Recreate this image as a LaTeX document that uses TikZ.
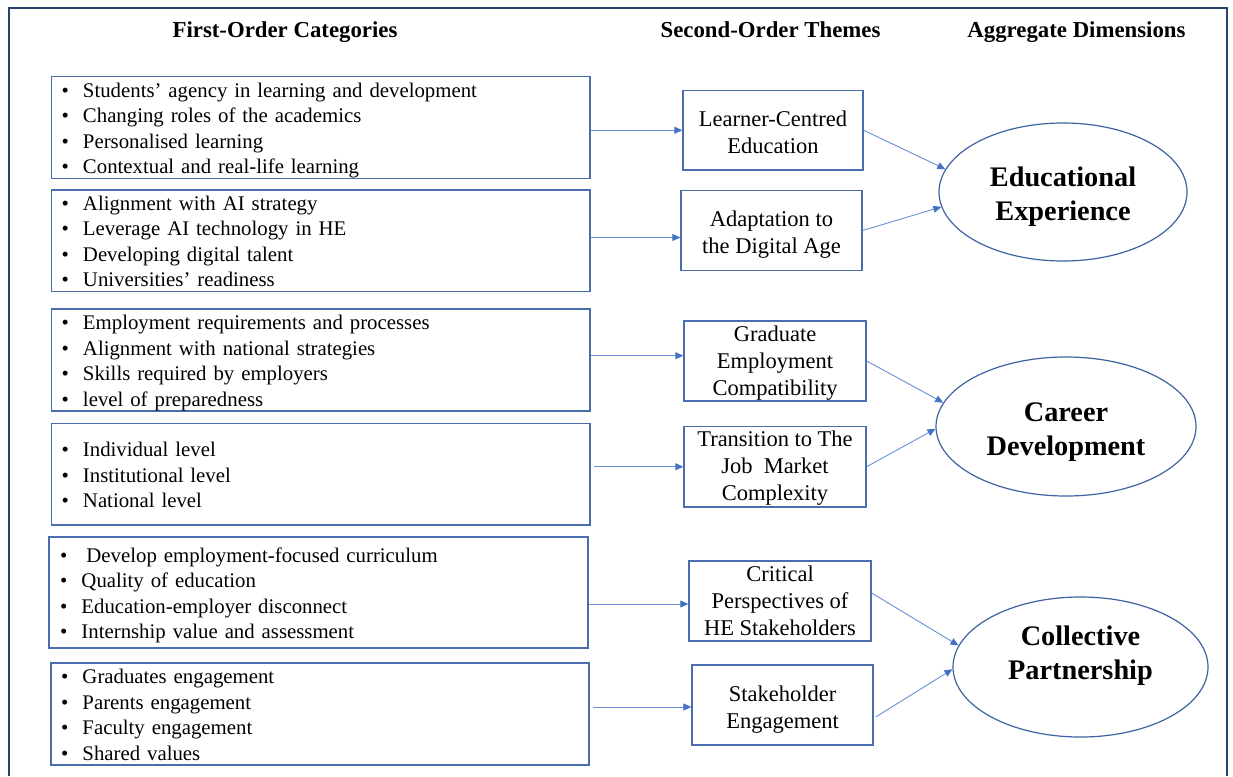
\documentclass[tikz,border=0pt]{standalone}
\usepackage{fontspec}
\setmainfont{Liberation Serif}
\usetikzlibrary{shapes.geometric,arrows.meta}
\definecolor{boxc}{HTML}{4A6EAD}
\definecolor{arrc}{HTML}{6890D4}
\definecolor{headc}{HTML}{4472C4}
\definecolor{framec}{HTML}{25456F}
\definecolor{ellc}{HTML}{3E63A0}
\newcommand{\bl}[1]{\makebox[21.5pt][l]{\textbullet}#1}
\newcommand{\lt}{\rule{0pt}{20.5pt}}
\newcommand{\lb}{\rule[-4.6pt]{0pt}{4.6pt}}
\newcommand{\mt}{\rule{0pt}{20pt}}
\newcommand{\mtt}{\rule{0pt}{25pt}}
\newcommand{\mb}{\rule[-6pt]{0pt}{6pt}}
\begin{document}
\begin{tikzpicture}[x=1pt,y=-1pt,
 lbox/.style={draw=boxc,line width=1.3pt,rectangle,inner xsep=10pt,inner ysep=0pt,align=left,font=\fontsize{20.8}{25.5}\selectfont},
 mbox/.style={draw=boxc,line width=1.3pt,rectangle,inner sep=0pt,align=center,font=\fontsize{22.5}{27}\selectfont,minimum width=181pt,minimum height=80pt},
 ell/.style={draw=ellc,line width=1.2pt,ellipse,inner sep=0pt,align=center,font=\bfseries\fontsize{28.3}{34}\selectfont},
 etext/.style={align=center,inner sep=0pt,font=\bfseries\fontsize{28.3}{34}\selectfont},
 head/.style={font=\bfseries\fontsize{22.8}{27}\selectfont,anchor=base,inner sep=0pt},
 arr/.style={draw=arrc,line width=0.9pt,-{Triangle[length=8pt,width=7pt,color=headc]}}]
\useasboundingbox (0,0) rectangle (1233,776);
\fill[white] (0,0) rectangle (1233,776);
\draw[framec,line width=2pt] (9,776) -- (9,8.5) -- (1226.5,8.5) -- (1226.5,776);

% headers
\node[head] (h1) at (285,37.5) {First-Order Categories};
\node[head] (h2) at (770.5,37.5) {Second-Order Themes};
\node[head] (h3) at (1076.5,37.5) {Aggregate Dimensions};

% first-order boxes
\node[lbox,minimum width=538.5pt,minimum height=101pt,text width=518.5pt] (l1) at (320.75,127.5)
 {\lt\bl{Students’ agency in learning and development}\\\bl{Changing roles of the academics}\\\bl{Personalised learning}\\\bl{Contextual and real-life learning}\lb};
\node[lbox,minimum width=538.5pt,minimum height=100.5pt,text width=518.5pt] (l2) at (320.75,240.75)
 {\lt\bl{Alignment with AI strategy}\\\bl{Leverage AI technology in HE}\\\bl{Developing digital talent}\\\bl{Universities’ readiness}\lb};
\node[lbox,minimum width=538.5pt,minimum height=102pt,text width=518.5pt] (l3) at (320.75,360)
 {\lt\bl{Employment requirements and processes}\\\bl{Alignment with national strategies}\\\bl{Skills required by employers}\\\bl{level of preparedness}\lb};
\node[lbox,minimum width=538.5pt,minimum height=101.5pt,text width=518.5pt] (l4) at (320.75,474.25)
 {\lt\bl{Individual level}\\\bl{Institutional level}\\\bl{National level}\lb};
\node[lbox,minimum width=539pt,minimum height=111pt,text width=517pt,inner xsep=11pt] (l5) at (318.5,592.5)
 {\lt\bl{\hspace{5pt}Develop employment-focused curriculum}\\\bl{Quality of education}\\\bl{Education-employer disconnect}\\\bl{Internship value and assessment}\lb};
\node[lbox,minimum width=538pt,minimum height=102pt,text width=518pt] (l6) at (320,714)
 {\lt\bl{Graduates engagement}\\\bl{Parents engagement}\\\bl{Faculty engagement}\\\bl{Shared values}\lb};

% second-order boxes
\node[mbox,minimum width=180pt,minimum height=79.5pt] (m1) at (773,130.25) {\mtt Learner-Centred\\Education\mb};
\node[mbox] (m2) at (771.5,230.5) {\mtt Adaptation to\\the Digital Age\mb};
\node[mbox,minimum width=182pt] (m3) at (775,361) {\mt Graduate\\Employment\\Compatibility\mb};
\node[mbox,minimum width=182pt,minimum height=80.5pt] (m4) at (775,466.75) {\mt Transition to The\\Job\ \ Market\\Complexity\mb};
\node[mbox,minimum width=182pt] (m5) at (780,601) {\mt Critical\\Perspectives of\\HE Stakeholders\mb};
\node[mbox] (m6) at (782.5,705) {\mtt Stakeholder\\Engagement\mb};

% aggregate dimensions
\node[ell,minimum width=248pt,minimum height=138pt] (e1) at (1063,192) {\rule{0pt}{29pt}Educational\\Experience\rule[-6pt]{0pt}{6pt}};
\node[ell,minimum width=260pt,minimum height=139pt] (e2) at (1066,426.5) {\rule{0pt}{31pt}Career\\Development\rule[-6pt]{0pt}{6pt}};
\node[ell,minimum width=255pt,minimum height=140pt] (e3) at (1080.5,667) {};
\node[etext] (e3t) at (1080.5,655.5) {Collective\\Partnership};

% first -> second
\draw[arr] (l1.east |- m1.west) -- (m1.west);
\draw[arr] ([yshift=-7pt]m2.west -| l2.east) -- ([yshift=-7pt]m2.west);
\draw[arr] ([yshift=5.3pt]m3.west -| l3.east) -- ([yshift=5.3pt]m3.west);
\draw[arr,shorten <=3pt] (l4.east |- m4.west) -- (m4.west);
\draw[arr] ([yshift=-3pt]m5.west -| l5.east) -- ([yshift=-3pt]m5.west);
\draw[arr,shorten <=3pt] ([yshift=-2pt]m6.west -| l6.east) -- ([yshift=-2pt]m6.west);

% second -> aggregate
\draw[arr] (m1.east) -- (e1.169);
\draw[arr] (m2.east) -- (e1.187);
\draw[arr] (m3.east) -- (e2.169);
\draw[arr] (m4.east) -- (e2.181);
\draw[arr] ([yshift=8pt]m5.east) -- (e3.170);
\draw[arr] ([xshift=2pt,yshift=-12pt]m6.east) -- (e3.181);
\end{tikzpicture}
\end{document}
